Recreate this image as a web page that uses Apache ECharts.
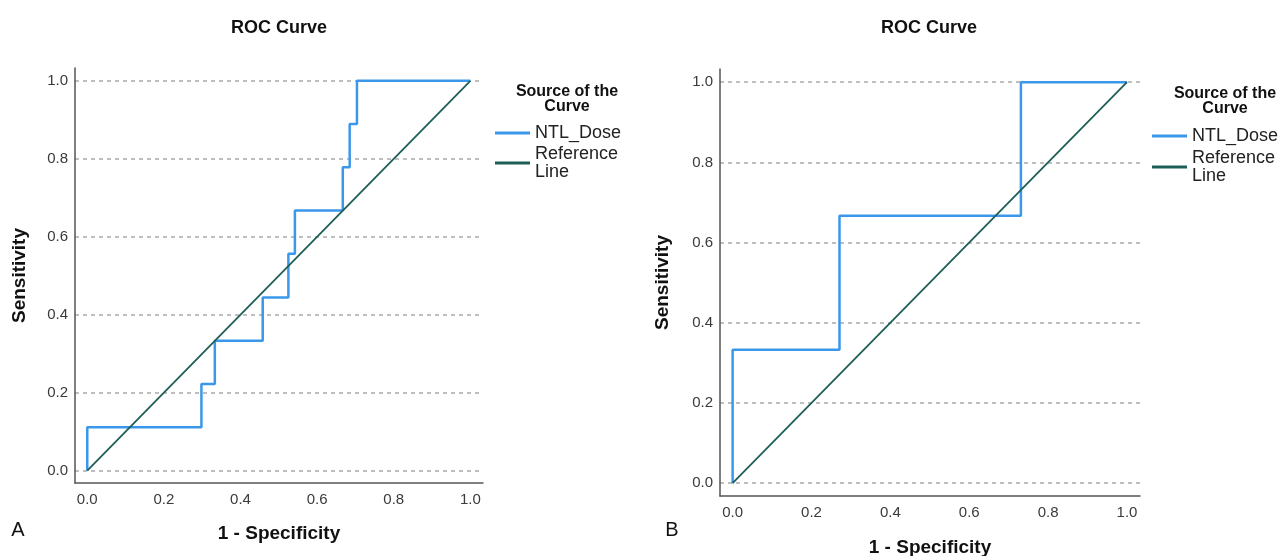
<!DOCTYPE html>
<html>
<head>
<meta charset="utf-8">
<script src="https://cdn.jsdelivr.net/npm/echarts@6/dist/echarts.min.js"></script>
<style>
  html, body { margin: 0; padding: 0; background: #fff; }
  #roc { width: 1288px; height: 556px; }
</style>
</head>
<body>
<div id="roc"></div>
<script>
// panel A: NTL_Dose ROC points (1 - specificity, sensitivity)
const fprA = [0, 0, 0.298, 0.298, 0.333, 0.333, 0.458, 0.458, 0.525, 0.525, 0.542, 0.542, 0.667, 0.667, 0.685, 0.685, 0.704, 0.704, 1];
const tprA = [0, 0.111, 0.111, 0.222, 0.222, 0.333, 0.333, 0.444, 0.444, 0.556, 0.556, 0.667, 0.667, 0.778, 0.778, 0.889, 0.889, 1, 1];

// panel B
const fprB = [0, 0, 0.271, 0.271, 0.731, 0.731, 1];
const tprB = [0, 0.333, 0.333, 0.667, 0.667, 1, 1];

// diagonal reference line
const refX = [0, 1];
const refY = [0, 1];

const tickValues = [0, 0.2, 0.4, 0.6, 0.8, 1.0];
const seriesNames = ['NTL_Dose', 'Reference Line'];

const FONT = 'Liberation Sans, Arial, sans-serif';
const zip = (xs, ys) => xs.map((x, i) => [x, ys[i]]);

document.addEventListener('DOMContentLoaded', function() {

    const chart = echarts.init(document.getElementById('roc'));

    const xAxisOpt = (gridIndex, nameGap) => ({
        type: 'value',
        gridIndex: gridIndex,
        min: -0.032,
        max: 1.033,
        name: '1 - Specificity',
        nameLocation: 'middle',
        nameGap: nameGap,
        nameTextStyle: { fontFamily: FONT, fontSize: 19, fontWeight: 'bold', color: '#111' },
        axisLine: { show: true, onZero: false, lineStyle: { color: '#555', width: 1.5 } },
        axisTick: { show: false, customValues: tickValues },
        axisLabel: {
            customValues: tickValues,
            margin: 9,
            fontFamily: FONT,
            fontSize: 15,
            color: '#3a3a3a',
            formatter: v => v.toFixed(1)
        },
        splitLine: { show: false }
    });

    const yAxisOpt = (gridIndex, nameGap) => ({
        type: 'value',
        gridIndex: gridIndex,
        min: -0.032,
        max: 1.033,
        name: 'Sensitivity',
        nameLocation: 'middle',
        nameGap: nameGap,
        nameTextStyle: { fontFamily: FONT, fontSize: 19, fontWeight: 'bold', color: '#111' },
        axisLine: { show: true, onZero: false, lineStyle: { color: '#555', width: 1.5 } },
        axisTick: { show: false, customValues: tickValues },
        axisLabel: {
            customValues: tickValues,
            margin: 7,
            fontFamily: FONT,
            fontSize: 15,
            color: '#3a3a3a',
            formatter: v => v.toFixed(1)
        },
        splitLine: {
            show: true,
            lineStyle: { color: '#aaa', width: 1.5, type: [4, 4] }
        }
    });

    const legendOpt = (left, top, gap) => ({
        left: left,
        top: top,
        orient: 'vertical',
        selectedMode: false,
        icon: 'rect',
        itemWidth: 35,
        itemHeight: 3,
        itemGap: gap,
        data: seriesNames,
        formatter: name => name.replace(' ', '\n'),
        textStyle: { fontFamily: FONT, fontSize: 18, lineHeight: 18, color: '#222' }
    });

    const blue = '#3b97ea';
    const teal = '#1d5e57';

    const textEl = (x, y, text, size, weight, lineHeight) => ({
        type: 'text',
        x: x,
        y: y,
        style: {
            text: text,
            fontFamily: FONT,
            fontSize: size,
            fontWeight: weight,
            lineHeight: lineHeight || size,
            fill: '#111',
            textAlign: 'center',
            textVerticalAlign: 'middle'
        }
    });

    chart.setOption({
        animation: false,
        grid: [
            { left: 75, right: 805, top: 68, bottom: 73, outerBoundsMode: 'none' },
            { left: 720, right: 148, top: 69, bottom: 60, outerBoundsMode: 'none' }
        ],
        xAxis: [xAxisOpt(0, 41), xAxisOpt(1, 42)],
        yAxis: [yAxisOpt(0, 46), yAxisOpt(1, 48)],
        legend: [legendOpt(490, 119, 3), legendOpt(1147, 122, 4)],
        graphic: [
            textEl(279, 28, 'ROC Curve', 18, 'bold'),
            textEl(929, 28, 'ROC Curve', 18, 'bold'),
            textEl(567, 99, 'Source of the\nCurve', 16, 'bold', 15.5),
            textEl(1225, 101, 'Source of the\nCurve', 16, 'bold', 15.5),
            textEl(18, 530, 'A', 20, 'normal'),
            textEl(672, 530, 'B', 20, 'normal')
        ],
        series: [
            {
                name: 'NTL_Dose',
                type: 'line',
                xAxisIndex: 0,
                yAxisIndex: 0,
                symbol: 'none',
                lineStyle: { color: blue, width: 2.5 },
                itemStyle: { color: blue },
                data: zip(fprA, tprA),
                z: 3
            },
            {
                name: 'Reference Line',
                type: 'line',
                xAxisIndex: 0,
                yAxisIndex: 0,
                symbol: 'none',
                lineStyle: { color: teal, width: 1.8 },
                itemStyle: { color: teal },
                data: zip(refX, refY),
                z: 4
            },
            {
                name: 'NTL_Dose',
                type: 'line',
                xAxisIndex: 1,
                yAxisIndex: 1,
                symbol: 'none',
                lineStyle: { color: blue, width: 2.5 },
                itemStyle: { color: blue },
                data: zip(fprB, tprB),
                z: 3
            },
            {
                name: 'Reference Line',
                type: 'line',
                xAxisIndex: 1,
                yAxisIndex: 1,
                symbol: 'none',
                lineStyle: { color: teal, width: 1.8 },
                itemStyle: { color: teal },
                data: zip(refX, refY),
                z: 4
            }
        ]
    });

});
</script>
</body>
</html>
